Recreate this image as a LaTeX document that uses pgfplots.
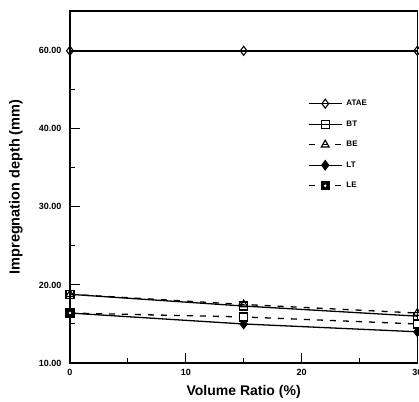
\documentclass[border=0pt]{standalone}
\usepackage{pgfplots}
\pgfplotsset{compat=1.18}
\usepackage{fontspec}
\setmainfont{Liberation Sans}

% black square with a small white dot in the middle
\pgfdeclareplotmark{dotsquare}{%
  \pgfpathrectangle{\pgfpoint{-\pgfplotmarksize}{-\pgfplotmarksize}}%
                   {\pgfpoint{2\pgfplotmarksize}{2\pgfplotmarksize}}%
  \pgfusepathqfillstroke
  \pgfsetfillcolor{white}%
  \pgfpathcircle{\pgfpointorigin}{0.35\pgfplotmarksize}%
  \pgfusepathqfill
}

\begin{document}
\begin{tikzpicture}
\path[use as bounding box] (0pt,0pt) rectangle (419pt,401pt);
\clip (0pt,0pt) rectangle (419pt,401pt);
\begin{axis}[
  at={(70pt,38pt)}, anchor=south west,
  scale only axis, width=347.3pt, height=352pt,
  xmin=0, xmax=30, ymin=10, ymax=70.2,
  % the scale is compressed by half above 40
  y coord trafo/.code={\pgfmathparse{#1-max(#1-40,0)/2}},
  y coord inv trafo/.code={\pgfmathparse{#1+max(#1-40,0)}},
  xtick={0,10,20,30}, minor xtick={5,15,25},
  ytick={10,20,30,40,60}, minor ytick={15,25,35,50},
  yticklabels={10.00,20.00,30.00,40.00,60.00},
  xtick pos=lower, ytick pos=left, tick align=inside,
  major tick length=10pt, minor tick length=5pt,
  every tick/.style={black, line width=1pt},
  axis line style={line width=1.3pt},
  /pgf/number format/assume math mode=true,
  ticklabel style={font=\bfseries\fontsize{9}{10}\selectfont},
  yticklabel style={xshift=-5pt},
  xticklabel style={yshift=-3pt},
  xlabel={Volume Ratio (\%)},
  ylabel={Impregnation depth (mm)},
  xlabel style={font=\bfseries\fontsize{14}{16}\selectfont, at={(axis description cs:0.5,-0.0824)}, anchor=center},
  ylabel style={font=\bfseries\fontsize{14.5}{16}\selectfont, at={(axis description cs:-0.156,0.5)}, anchor=center},
  legend style={at={(0.676,0.7585)}, anchor=north west, draw=none, fill=none,
    font=\bfseries\fontsize{8}{9}\selectfont, row sep=9.5pt,
    nodes={inner xsep=4pt}},
  legend cell align=left,
  legend image code/.code={%
    \draw[mark repeat=2,mark phase=2,#1] plot coordinates {(0pt,0pt)(16.5pt,0pt)(33pt,0pt)};},
  every axis plot/.append style={black, line width=1.3pt},
]
\addplot[solid, line width=1.5pt, mark=diamond, mark size=4.5pt, mark options={solid, fill=white, line width=1.1pt}]
  coordinates {(0,60) (15,60) (30,60)};
\addlegendentry{ATAE}
\addplot[solid, mark=square, mark size=4pt, mark options={solid, fill=white, line width=1.1pt}]
  coordinates {(0,18.8) (15,17.3) (30,16.0)};
\addlegendentry{BT}
\addplot[dash pattern=on 6pt off 7pt, mark=triangle, mark size=4.5pt, mark options={solid, fill=white, line width=1.1pt}]
  coordinates {(0,18.8) (15,17.5) (30,16.4)};
\addlegendentry{BE}
\addplot[solid, mark=diamond*, mark size=4.5pt, mark options={solid, fill=black}]
  coordinates {(0,16.4) (15,15.0) (30,14.0)};
\addlegendentry{LT}
\addplot[dash pattern=on 6pt off 7pt, mark=dotsquare, mark size=4pt, mark options={solid, fill=black}]
  coordinates {(0,16.4) (15,15.9) (30,15.0)};
\addlegendentry{LE}
\end{axis}
\end{tikzpicture}
\end{document}
